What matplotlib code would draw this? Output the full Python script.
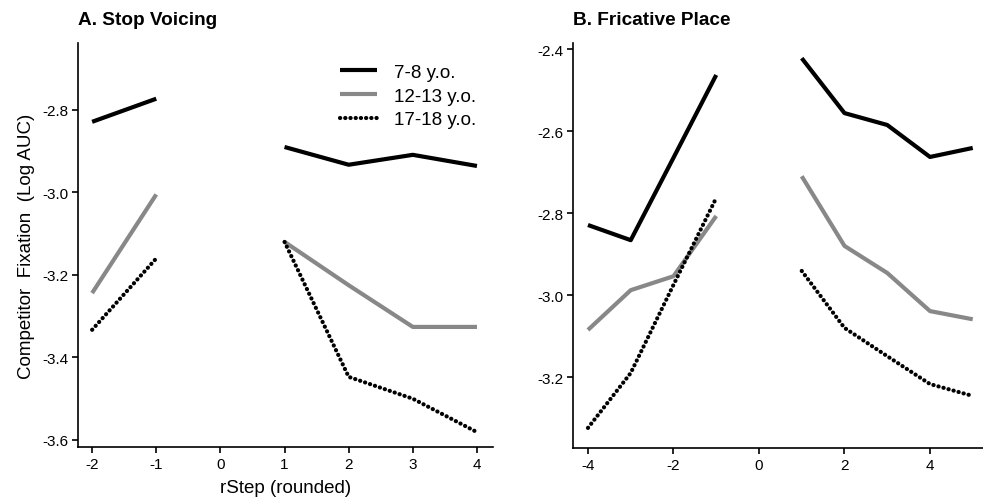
import numpy as np
import matplotlib
matplotlib.use("Agg")
import matplotlib.pyplot as plt

plt.rcParams['font.family'] = ['Liberation Sans', 'DejaVu Sans']

groups = ['7-8 y.o.', '12-13 y.o.', '17-18 y.o.']

# Panel A: stop voicing
stop_x_left = [-2, -1]
stop_x_right = [1, 2, 3, 4]
stop_left = {
    '7-8 y.o.': [-2.829, -2.773],
    '12-13 y.o.': [-3.244, -3.005],
    '17-18 y.o.': [-3.333, -3.160],
}
stop_right = {
    '7-8 y.o.': [-2.890, -2.933, -2.909, -2.936],
    '12-13 y.o.': [-3.120, -3.225, -3.326, -3.326],
    '17-18 y.o.': [-3.120, -3.447, -3.500, -3.581],
}

# Panel B: fricative place
fric_x_left = [-4, -3, -2, -1]
fric_x_right = [1, 2, 3, 4, 5]
fric_left = {
    '7-8 y.o.': [-2.829, -2.866, -2.665, -2.463],
    '12-13 y.o.': [-3.085, -2.988, -2.954, -2.807],
    '17-18 y.o.': [-3.324, -3.190, -2.975, -2.763],
}
fric_right = {
    '7-8 y.o.': [-2.422, -2.556, -2.585, -2.663, -2.641],
    '12-13 y.o.': [-2.710, -2.880, -2.946, -3.039, -3.059],
    '17-18 y.o.': [-2.941, -3.080, -3.149, -3.217, -3.246],
}

styles = {
    '7-8 y.o.': dict(color='black', lw=3.0, ls='-', solid_capstyle='butt'),
    '12-13 y.o.': dict(color='#888888', lw=3.0, ls='-', solid_capstyle='butt'),
    '17-18 y.o.': dict(color='black', lw=3.0, ls=(0, (0.05, 1.2)),
                       dash_capstyle='round'),
}

W, H = 983, 502
fig = plt.figure(figsize=(W / 100, H / 100), dpi=100)
axA = fig.add_axes([78 / W, 1 - 448 / H, (493 - 78) / W, (448 - 44) / H])
axB = fig.add_axes([573 / W, 1 - 449 / H, (983 - 573) / W, (449 - 44) / H])


def draw(ax, xl, yl, xr, yr):
    for g in groups:
        ax.plot(xl, yl[g], label=g, **styles[g])
        ax.plot(xr, yr[g], **styles[g])
    for s in ['top', 'right']:
        ax.spines[s].set_visible(False)
    for s in ['left', 'bottom']:
        ax.spines[s].set_linewidth(1.2)
    ax.tick_params(direction='out', length=4, width=1.2, labelsize=11, pad=3)


draw(axA, stop_x_left, stop_left, stop_x_right, stop_right)
axA.set_xlim(-2.22, 4.25)
axA.set_ylim(-3.617, -2.638)
axA.set_xticks([-2, -1, 0, 1, 2, 3, 4])
axA.set_yticks([-2.8, -3.0, -3.2, -3.4, -3.6])
axA.set_yticklabels(['-2.8', '-3.0', '-3.2', '-3.4', '-3.6'])
axA.set_xticklabels(['-2', '-1', '0', '1', '2', '3', '4'])
axA.set_xlabel('rStep (rounded)', fontsize=13.5, labelpad=6)
axA.set_ylabel('Competitor  Fixation  (Log AUC)', fontsize=13.5, labelpad=5)
axA.set_title('A. Stop Voicing', loc='left', fontsize=13.7, fontweight='bold',
              pad=14)
leg = axA.legend(loc='upper left', bbox_to_anchor=(0.59, 0.99), frameon=False,
                 fontsize=13.5, handlelength=2.0, handletextpad=0.9,
                 labelspacing=0.35)

draw(axB, fric_x_left, fric_left, fric_x_right, fric_right)
axB.set_xlim(-4.35, 5.24)
axB.set_ylim(-3.373, -2.385)
axB.set_xticks([-4, -2, 0, 2, 4])
axB.set_xticklabels(['-4', '-2', '0', '2', '4'])
axB.set_yticks([-2.4, -2.6, -2.8, -3.0, -3.2])
axB.set_yticklabels(['-2.4', '-2.6', '-2.8', '-3.0', '-3.2'])
axB.set_title('B. Fricative Place', loc='left', fontsize=13.7, fontweight='bold',
              pad=14)

fig.savefig('out.png', dpi=100)
